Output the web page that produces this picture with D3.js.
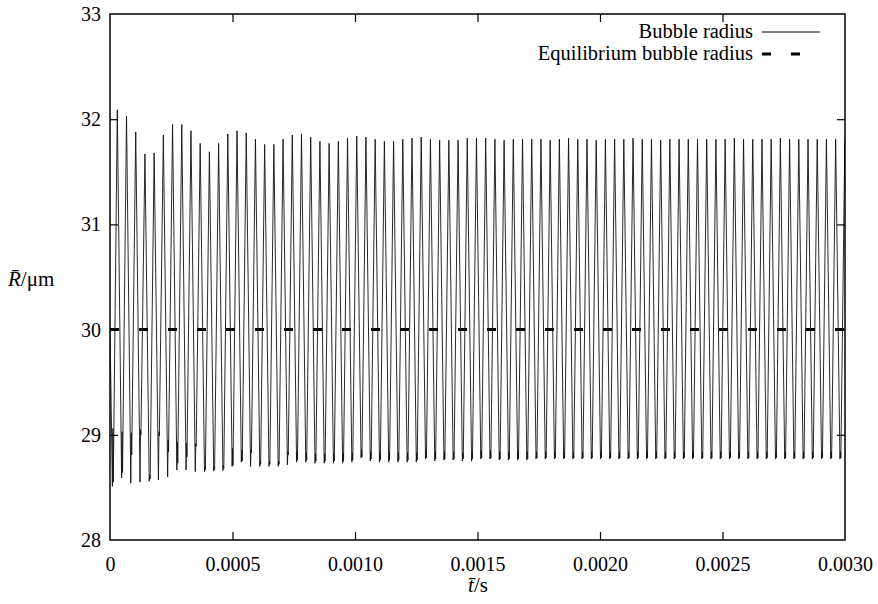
<!DOCTYPE html>
<html>
<head>
<meta charset="utf-8">
<script src="https://cdn.jsdelivr.net/npm/d3@7/dist/d3.min.js"></script>
<style>
  html, body { margin: 0; padding: 0; background: #fff; }
  svg { display: block; }
</style>
</head>
<body>
<svg id="chart" width="878" height="604"></svg>
<script>
// ---------- data ----------
const xTicks = [0, 0.0005, 0.0010, 0.0015, 0.0020, 0.0025, 0.0030];
const xTickLabels = ["0", "0.0005", "0.0010", "0.0015", "0.0020", "0.0025", "0.0030"];
const yTicks = [28, 29, 30, 31, 32, 33];
const yTickLabels = ["28", "29", "30", "31", "32", "33"];

const startPoint = [0, 30];          // t (s), R (µm)
const firstPeakTime = 2.98e-5;      // s
const period = 3.759e-5;            // s, oscillation period
const equilibriumRadius = 30;       // µm

// maxima of each oscillation cycle (µm)
const peaks = [
  32.09, 32.03, 31.88, 31.67, 31.68, 31.85, 31.95, 31.95, 31.89, 31.77,
  31.69, 31.77, 31.86, 31.89, 31.87, 31.81, 31.76, 31.76, 31.81, 31.85,
  31.86, 31.83, 31.79, 31.77, 31.79, 31.82, 31.84, 31.83, 31.81, 31.79,
  31.79, 31.81, 31.82, 31.83, 31.81, 31.80, 31.80, 31.80, 31.82, 31.82,
  31.82, 31.81, 31.80, 31.81, 31.81, 31.81, 31.81, 31.80, 31.81, 31.82,
  31.81, 31.81, 31.80, 31.81, 31.81, 31.81, 31.82, 31.81, 31.81, 31.80,
  31.81, 31.81, 31.81, 31.81, 31.81, 31.81, 31.81, 31.82, 31.81, 31.81,
  31.81, 31.81, 31.82, 31.81, 31.81, 31.81, 31.81, 31.81, 31.81, 31.81
];
// minima preceding each maximum (µm)
const troughs = [
  28.51, 28.59, 28.54, 28.55, 28.56, 28.57, 28.60, 28.665, 28.665, 28.65,
  28.65, 28.655, 28.66, 28.70, 28.74, 28.70, 28.70, 28.70, 28.70, 28.715,
  28.74, 28.74, 28.73, 28.73, 28.73, 28.73, 28.74, 28.78, 28.75, 28.74,
  28.74, 28.74, 28.74, 28.74, 28.77, 28.75, 28.76, 28.76, 28.75, 28.75,
  28.77, 28.77, 28.76, 28.76, 28.76, 28.76, 28.77, 28.77, 28.77, 28.77,
  28.77, 28.77, 28.77, 28.77, 28.77, 28.77, 28.77, 28.77, 28.77, 28.77,
  28.77, 28.77, 28.77, 28.77, 28.77, 28.77, 28.77, 28.77, 28.77, 28.77,
  28.77, 28.77, 28.77, 28.77, 28.77, 28.77, 28.77, 28.77, 28.77, 28.77
];
// small rebound just after each minimum (top and bottom of the notch, µm)
const notchTops = [
  29.06, 29.03, 29.02, 29.05, 28.62, 29.03, 28.95, 28.93, 28.92, 28.92,
  28.70, 28.70, 28.71, 28.87, 28.855, 28.86, 28.75, 28.75, 28.75, 28.84,
  28.84, 28.83, 28.82, 28.82, 28.82, 28.82, 28.83, 28.86, 28.84, 28.83,
  28.83, 28.83, 28.83, 28.83, 28.85, 28.84, 28.84, 28.84, 28.83, 28.83,
  28.85, 28.85, 28.84, 28.84, 28.84, 28.84, 28.84, 28.84, 28.84, 28.84,
  28.84, 28.84, 28.84, 28.84, 28.84, 28.84, 28.84, 28.84, 28.84, 28.84,
  28.84, 28.84, 28.84, 28.84, 28.84, 28.84, 28.84, 28.84, 28.84, 28.84,
  28.84, 28.84, 28.84, 28.84, 28.84, 28.84, 28.84, 28.84, 28.84, 28.84
];
const notchLows = [
  28.55, 28.64, 28.81, 29.00, 28.58, 28.99, 28.84, 28.73, 28.79, 28.89,
  28.67, 28.67, 28.68, 28.71, 28.75, 28.83, 28.72, 28.72, 28.72, 28.81,
  28.76, 28.76, 28.75, 28.75, 28.75, 28.75, 28.76, 28.79, 28.77, 28.76,
  28.76, 28.76, 28.76, 28.76, 28.78, 28.77, 28.77, 28.77, 28.77, 28.77,
  28.78, 28.78, 28.77, 28.77, 28.77, 28.77, 28.78, 28.78, 28.78, 28.78,
  28.78, 28.78, 28.78, 28.78, 28.78, 28.78, 28.78, 28.78, 28.78, 28.78,
  28.78, 28.78, 28.78, 28.78, 28.78, 28.78, 28.78, 28.78, 28.78, 28.78,
  28.78, 28.78, 28.78, 28.78, 28.78, 28.78, 28.78, 28.78, 28.78, 28.78
];

const legendLabels = ["Bubble radius", "Equilibrium bubble radius"];

// ---------- font choice: first installed serif face, else Liberation Sans ----------
function hasFont(name) {
  const ctx = document.createElement("canvas").getContext("2d");
  const s = "Equilibrium bubble radius 0.0025 WMiil";
  ctx.font = "40px monospace";
  const w0 = ctx.measureText(s).width;
  ctx.font = `40px "${name}", monospace`;
  const w1 = ctx.measureText(s).width;
  return Math.abs(w0 - w1) > 0.5;
}
const serifCandidates = ["Liberation Serif", "Tinos", "Times New Roman", "DejaVu Serif",
  "Noto Serif", "FreeSerif", "Nimbus Roman", "Nimbus Roman No9 L", "Times", "Georgia"];
const found = serifCandidates.find(hasFont);
const FONTFACE = found ? `"${found}", serif` : '"Liberation Sans", Arial, sans-serif';

// ---------- layout ----------
const plot = { left: 110, right: 845, top: 14, bottom: 540 };
const FONT = 20;

const svg = d3.select("#chart");
const x = d3.scaleLinear().domain([0, 0.003]).range([plot.left, plot.right]);
const y = d3.scaleLinear().domain([28, 33]).range([plot.bottom, plot.top]);

// build the radius series from the read extrema
const series = [startPoint];
for (let i = 0; i < peaks.length; i++) {
  const tp = firstPeakTime + i * period;
  const tc = tp - period / 2;
  series.push([tc - 0.033 * period, troughs[i]]);
  series.push([tc + 0.022 * period, notchTops[i]]);
  series.push([tc + 0.065 * period, notchLows[i]]);
  series.push([tp, peaks[i]]);
}

svg.append("defs").append("clipPath").attr("id", "clip")
  .append("rect")
  .attr("x", plot.left).attr("y", plot.top)
  .attr("width", plot.right - plot.left).attr("height", plot.bottom - plot.top);

const g = svg.append("g").attr("clip-path", "url(#clip)");

// equilibrium line
g.append("path")
  .datum([[0, equilibriumRadius], [0.003, equilibriumRadius]])
  .attr("d", d3.line().x(d => x(d[0])).y(d => y(d[1])))
  .attr("fill", "none").attr("stroke", "#000")
  .attr("stroke-width", 3).attr("stroke-dasharray", "9,20");

// radius curve
g.append("path")
  .datum(series)
  .attr("d", d3.line().x(d => x(d[0])).y(d => y(d[1])))
  .attr("fill", "none").attr("stroke", "#111")
  .attr("stroke-width", 0.9).attr("stroke-linejoin", "miter");

// axes (inward ticks, mirrored)
const tickLen = 8;
const axB = svg.append("g").attr("transform", `translate(0,${plot.bottom})`)
  .call(d3.axisBottom(x).tickValues(xTicks).tickSize(-tickLen).tickPadding(17)
    .tickFormat((d, i) => xTickLabels[i]));
const axT = svg.append("g").attr("transform", `translate(0,${plot.top})`)
  .call(d3.axisTop(x).tickValues(xTicks).tickSize(-tickLen).tickFormat(""));
const axL = svg.append("g").attr("transform", `translate(${plot.left},0)`)
  .call(d3.axisLeft(y).tickValues(yTicks).tickSize(-tickLen).tickPadding(9)
    .tickFormat((d, i) => yTickLabels[i]));
const axR = svg.append("g").attr("transform", `translate(${plot.right},0)`)
  .call(d3.axisRight(y).tickValues(yTicks).tickSize(-tickLen).tickFormat(""));

[axB, axT, axL, axR].forEach(a => {
  a.attr("font-family", FONTFACE).attr("font-size", FONT);
  a.select(".domain").remove();
  a.selectAll(".tick line").attr("stroke", "#000").attr("stroke-width", 1.2);
  a.selectAll("text").attr("fill", "#000");
});
axB.selectAll(".tick").filter(d => d === 0 || d === 0.003).select("line").remove();
axT.selectAll(".tick").filter(d => d === 0 || d === 0.003).select("line").remove();
axL.selectAll(".tick").filter(d => d === 28 || d === 33).select("line").remove();
axR.selectAll(".tick").filter(d => d === 28 || d === 33).select("line").remove();

// frame
svg.append("rect")
  .attr("x", plot.left).attr("y", plot.top)
  .attr("width", plot.right - plot.left).attr("height", plot.bottom - plot.top)
  .attr("fill", "none").attr("stroke", "#000").attr("stroke-width", 1.5);

// axis titles
const xt = svg.append("text").attr("x", 478).attr("y", 592)
  .attr("text-anchor", "middle").attr("font-family", FONTFACE).attr("font-size", 21).attr("fill", "#000");
xt.append("tspan").attr("font-style", "italic").text("t\u0304");
xt.append("tspan").text("/s");

const yt = svg.append("text").attr("x", 8).attr("y", 286)
  .attr("text-anchor", "start").attr("font-family", FONTFACE).attr("font-size", 21).attr("fill", "#000");
yt.append("tspan").attr("font-style", "italic").text("R\u0304");
yt.append("tspan").text("/\u03bcm");

// legend
const legendRight = 753;
const legendLineX1 = 762, legendLineX2 = 820;
const rows = [
  { label: legendLabels[0], yText: 38, yLine: 32, dash: null, width: 1 },
  { label: legendLabels[1], yText: 60, yLine: 54, dash: "9,20", width: 3 }
];
rows.forEach(r => {
  svg.append("text").attr("x", legendRight).attr("y", r.yText)
    .attr("text-anchor", "end").attr("font-family", FONTFACE).attr("font-size", 20.5)
    .attr("fill", "#000").text(r.label);
  svg.append("line")
    .attr("x1", legendLineX1).attr("x2", legendLineX2)
    .attr("y1", r.yLine).attr("y2", r.yLine)
    .attr("stroke", "#000").attr("stroke-width", r.width)
    .attr("stroke-dasharray", r.dash);
});
</script>
</body>
</html>
